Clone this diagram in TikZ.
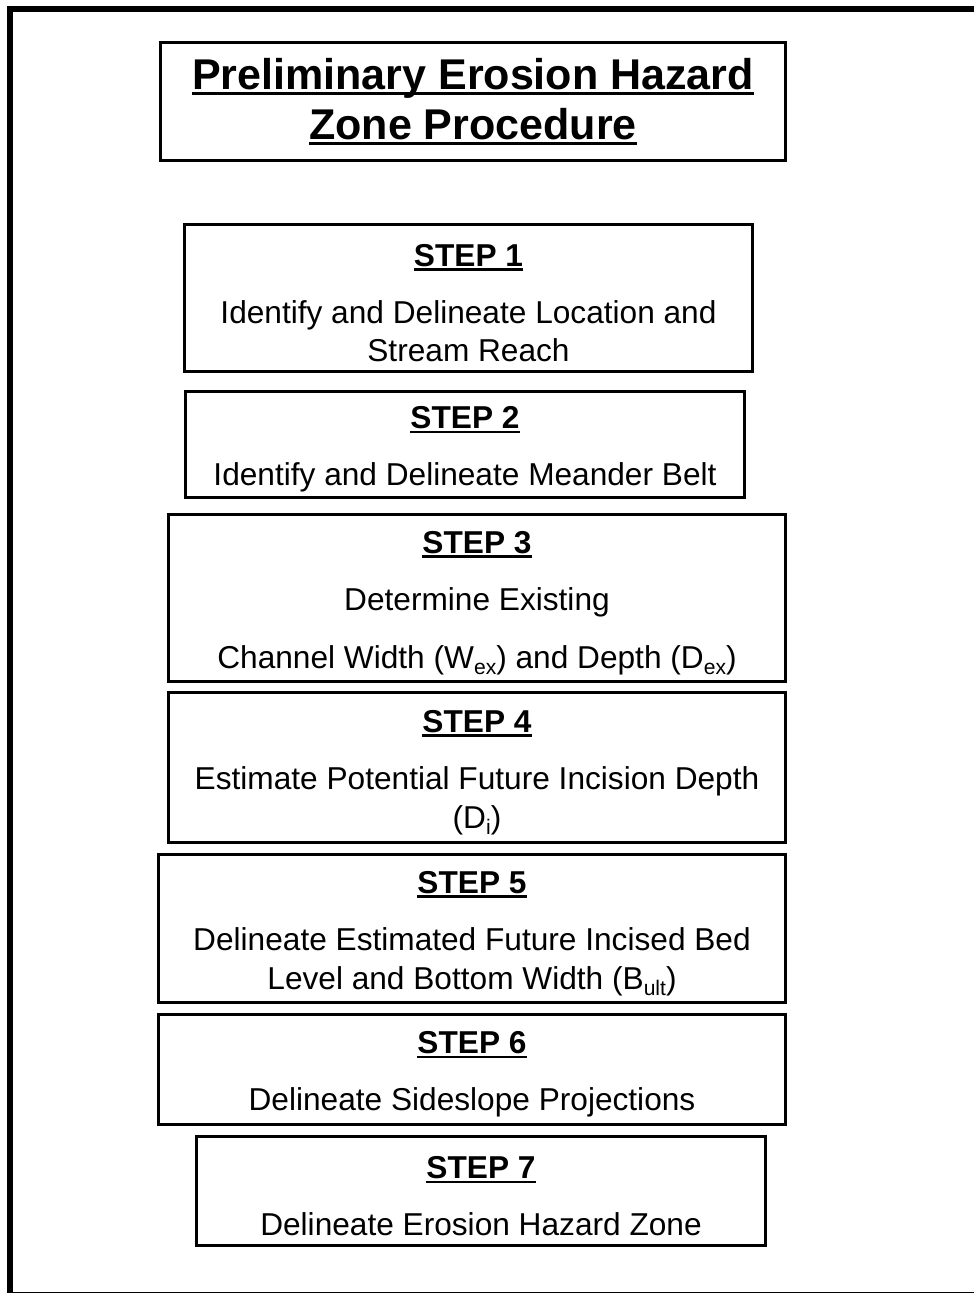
\documentclass[tikz,border=0pt]{standalone}
\usepackage{fontspec}
\setmainfont{Liberation Sans}

% underlined headings
\newcommand{\stepul}[1]{\setbox0\hbox{#1}\rule{0pt}{23pt}\rlap{\copy0}\rule[-3.2pt]{\wd0}{1.8pt}}
\newcommand{\titleul}[1]{\setbox0\hbox{#1}\rlap{\copy0}\rule[-4pt]{\wd0}{2.2pt}}
% lowered subscripts
\newcommand{\lowsub}[1]{\raisebox{-4.5pt}{\fontsize{15}{15}\selectfont #1}}

\tikzset{
  stepbox/.style={draw, line width=2.1pt, align=center, inner sep=0pt,
    font=\fontsize{22.5}{27.7}\selectfont},
  titlebox/.style={draw, line width=2.1pt, align=center, inner sep=0pt,
    font=\fontsize{30.6}{35.6}\selectfont\bfseries},
}

\begin{document}
\begin{tikzpicture}[x=0.025cm, y=-0.025cm]

  \useasboundingbox (0,0) rectangle (974,1293);

  % --- outer frame ---
  \draw[line width=4.3pt] (10,1293) -- (10,9) -- (974,9);
  \draw[line width=0.8pt] (7,1292.5) -- (974,1292.5);

  % --- title ---
  \node[titlebox, minimum width=15.625cm, minimum height=2.95cm] (title) at (473,101.5)
    {\titleul{Preliminary Erosion Hazard}\\ \titleul{Zone Procedure}};

  % --- steps ---
  \node[stepbox, minimum width=14.2cm, minimum height=3.675cm] (s1) at (468.5,298)
    {\stepul{\textbf{STEP 1}}\\[12.8pt] Identify and Delineate Location and\\ Stream Reach};

  \node[stepbox, minimum width=13.975cm, minimum height=2.65cm] (s2) at (465,444.5)
    {\stepul{\textbf{STEP 2}}\\[12.8pt] Identify and Delineate Meander Belt};

  \node[stepbox, minimum width=15.425cm, minimum height=4.175cm] (s3) at (477,598)
    {\stepul{\textbf{STEP 3}}\\[12.8pt] Determine Existing\\[13.5pt]
     Channel Width (W\lowsub{ex}) and Depth (D\lowsub{ex})};

  \node[stepbox, minimum width=15.425cm, minimum height=3.75cm] (s4) at (477,767.5)
    {\stepul{\textbf{STEP 4}}\\[12.8pt] Estimate Potential Future Incision Depth\\ (D\lowsub{i})};

  \node[stepbox, minimum width=15.675cm, minimum height=3.7cm] (s5) at (472,928.5)
    {\stepul{\textbf{STEP 5}}\\[12.8pt] Delineate Estimated Future Incised Bed\\
     Level and Bottom Width (B\lowsub{ult})};

  \node[stepbox, minimum width=15.675cm, minimum height=2.75cm] (s6) at (472,1069.5)
    {\stepul{\textbf{STEP 6}}\\[12.8pt] Delineate Sideslope Projections};

  \node[stepbox, minimum width=14.225cm, minimum height=2.725cm] (s7) at (481,1191)
    {\stepul{\textbf{STEP 7}}\\[12.8pt] Delineate Erosion Hazard Zone};

\end{tikzpicture}
\end{document}
